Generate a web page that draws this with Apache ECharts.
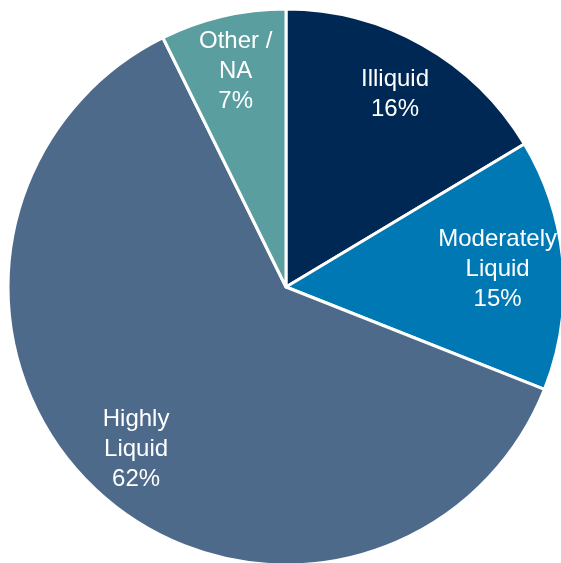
<!DOCTYPE html>
<html><head><meta charset="utf-8">
<style>html,body{margin:0;padding:0;background:#fff}#c{width:561px;height:563px}</style>
<script src="https://cdn.jsdelivr.net/npm/echarts@6/dist/echarts.min.js"></script>
</head><body><div id="c"></div>
<script>
const categories = ['Illiquid', 'Moderately\nLiquid', 'Highly\nLiquid', 'Other /\nNA'];
const values = [16.4, 14.6, 61.7, 7.3];
const colors = ['#002855', '#0078b4', '#4d6a8b', '#5b9ea0'];

const W = 561;
const chart = echarts.init(document.getElementById('c'), null, {renderer: 'canvas'});
const data = categories.map((n, i) => ({name: n, value: values[i], itemStyle: {color: colors[i]}}));
const center = [286, 287];
const R = 278;
chart.setOption({
  animation: false,
  series: [
    {
      type: 'pie', center: center, radius: [0, R], startAngle: 90, clockwise: true,
      data: data, label: {show: false}, labelLine: {show: false}, silent: true,
      itemStyle: {borderColor: '#fff', borderWidth: 3}
    },
    {
      type: 'pie', center: center, radius: [R * 0.57, R], startAngle: 90, clockwise: true,
      data: categories.map((n, i) => ({name: n, value: values[i]})), silent: true,
      itemStyle: {color: 'rgba(0,0,0,0)', borderWidth: 0},
      label: {
        show: true, position: 'inside', color: '#fff', fontSize: 24, lineHeight: 30,
        fontFamily: 'Liberation Sans, Arial, sans-serif', align: 'center',
        formatter: p => p.name + '\n' + Math.round(p.value) + '%'
      },
      labelLine: {show: false},
      labelLayout: function (p) {
        const r = p.labelRect;
        const over = r.x + r.width - (W - 4);
        return over > 0 ? {dx: -over} : {};
      }
    }
  ]
});
</script></body></html>
